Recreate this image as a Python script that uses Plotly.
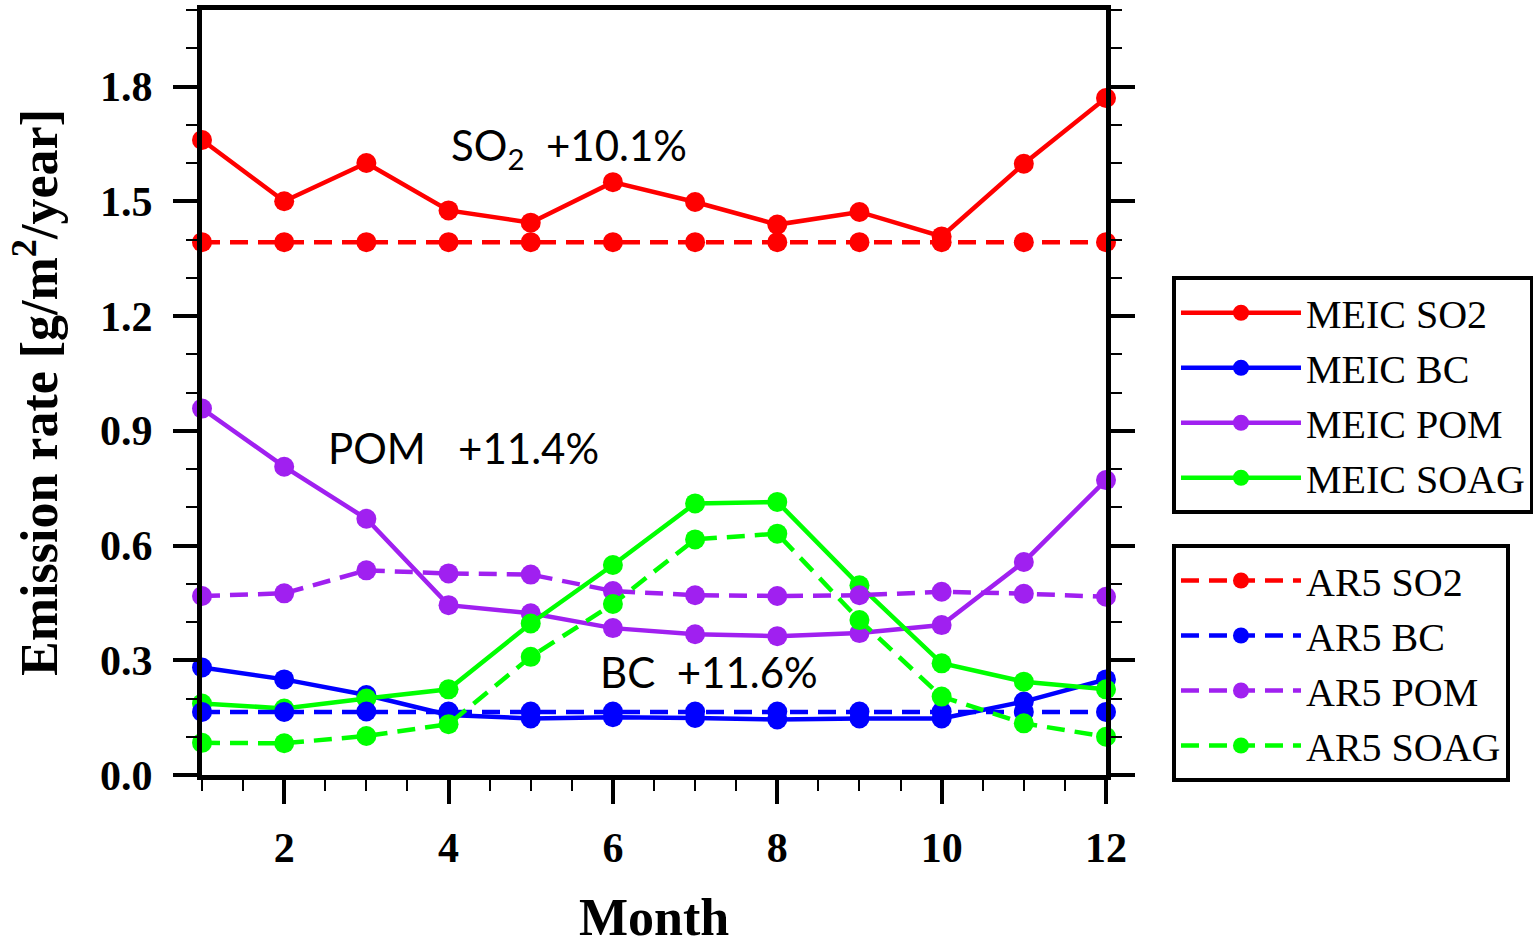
import plotly.graph_objects as go

months = [1, 2, 3, 4, 5, 6, 7, 8, 9, 10, 11, 12]

meic_so2 = [1.66, 1.50, 1.60, 1.476, 1.444, 1.55, 1.498, 1.439, 1.472, 1.408, 1.598, 1.77]
ar5_so2 = [1.393, 1.393, 1.393, 1.393, 1.393, 1.393, 1.393, 1.393, 1.393, 1.393, 1.393, 1.393]
meic_bc = [0.281, 0.250, 0.209, 0.157, 0.148, 0.151, 0.149, 0.145, 0.148, 0.148, 0.192, 0.250]
ar5_bc = [0.165, 0.165, 0.166, 0.166, 0.166, 0.166, 0.166, 0.166, 0.166, 0.166, 0.165, 0.165]
meic_pom = [0.958, 0.806, 0.670, 0.444, 0.423, 0.384, 0.368, 0.363, 0.371, 0.392, 0.557, 0.771]
ar5_pom = [0.468, 0.475, 0.535, 0.527, 0.524, 0.481, 0.470, 0.468, 0.470, 0.479, 0.474, 0.466]
meic_soag = [0.187, 0.174, 0.200, 0.224, 0.396, 0.549, 0.710, 0.714, 0.496, 0.292, 0.244, 0.224]
ar5_soag = [0.084, 0.083, 0.102, 0.133, 0.309, 0.447, 0.616, 0.631, 0.405, 0.205, 0.135, 0.100]

meic_names = ["MEIC SO2", "MEIC BC", "MEIC POM", "MEIC SOAG"]
ar5_names = ["AR5 SO2", "AR5 BC", "AR5 POM", "AR5 SOAG"]
colors = ["#FF0000", "#0000FF", "#A020F0", "#00FF00"]

annotations_text = ["SO<sub>2</sub>&nbsp;&nbsp;+10.1%", "POM&nbsp;&nbsp;&nbsp;+11.4%", "BC&nbsp;&nbsp;+11.6%"]
annotations_x = [4.0, 2.51, 5.82]
annotations_y = [1.64, 0.855, 0.27]

fig = go.Figure()

meic_series = [meic_so2, meic_bc, meic_pom, meic_soag]
ar5_series = [ar5_so2, ar5_bc, ar5_pom, ar5_soag]

for name, vals, col in zip(meic_names, meic_series, colors):
    fig.add_trace(go.Scatter(
        x=months, y=vals, name=name, mode="lines+markers",
        line=dict(color=col, width=4.5),
        marker=dict(color=col, size=20),
        cliponaxis=False, legend="legend",
    ))

for name, vals, col in zip(ar5_names, ar5_series, colors):
    fig.add_trace(go.Scatter(
        x=months, y=vals, name=name, mode="lines+markers",
        line=dict(color=col, width=4.5, dash="18px,10px"),
        marker=dict(color=col, size=20),
        cliponaxis=False, legend="legend2",
    ))

for t, ax, ay in zip(annotations_text, annotations_x, annotations_y):
    fig.add_annotation(x=ax, y=ay, text=t, showarrow=False, xanchor="left", yanchor="middle",
                       font=dict(family="Lato, Open Sans, sans-serif", size=42, color="black"))

serif = "Liberation Serif, Times New Roman, serif"

legend_common = dict(
    xanchor="left", yanchor="top",
    bgcolor="white", bordercolor="black", borderwidth=4,
    font=dict(family=serif, size=40, color="black"),
    itemwidth=120,
    tracegroupgap=0,
)

fig.update_layout(
    width=1533, height=946,
    margin=dict(l=202, r=427, t=10, b=171, autoexpand=False),
    plot_bgcolor="white", paper_bgcolor="white",
    showlegend=True,
    legend=dict(x=1.073, y=0.652, **legend_common),
    legend2=dict(x=1.073, y=0.302, **legend_common),
    xaxis=dict(
        range=[1, 12], tick0=0, dtick=2,
        showgrid=False, zeroline=False,
        showline=True, linecolor="black", linewidth=5, mirror=True,
        ticks="outside", ticklen=24, tickwidth=4, tickcolor="black",
        ticklabelstandoff=8,
        tickfont=dict(family=serif, size=42, color="black", weight="bold"),
        minor=dict(dtick=0.5, tick0=0, ticks="outside", ticklen=11, tickwidth=2, tickcolor="black"),
        title=dict(text="<b>Month</b>", font=dict(family=serif, size=52, color="black"), standoff=50),
    ),
    yaxis=dict(
        range=[0, 2.0], tick0=0, dtick=0.3, tickformat=".1f",
        showgrid=False, zeroline=False,
        showline=True, linecolor="black", linewidth=5, mirror="ticks",
        ticks="outside", ticklen=24, tickwidth=4, tickcolor="black",
        ticklabelstandoff=12,
        tickfont=dict(family=serif, size=42, color="black", weight="bold"),
        minor=dict(dtick=0.1, tick0=0, ticks="outside", ticklen=11, tickwidth=2, tickcolor="black"),
        title=dict(text="<b>Emission rate [g/m<sup>2</sup>/year]</b>", font=dict(family=serif, size=52, color="black"), standoff=27),
    ),
)

fig.write_html("out.html")
